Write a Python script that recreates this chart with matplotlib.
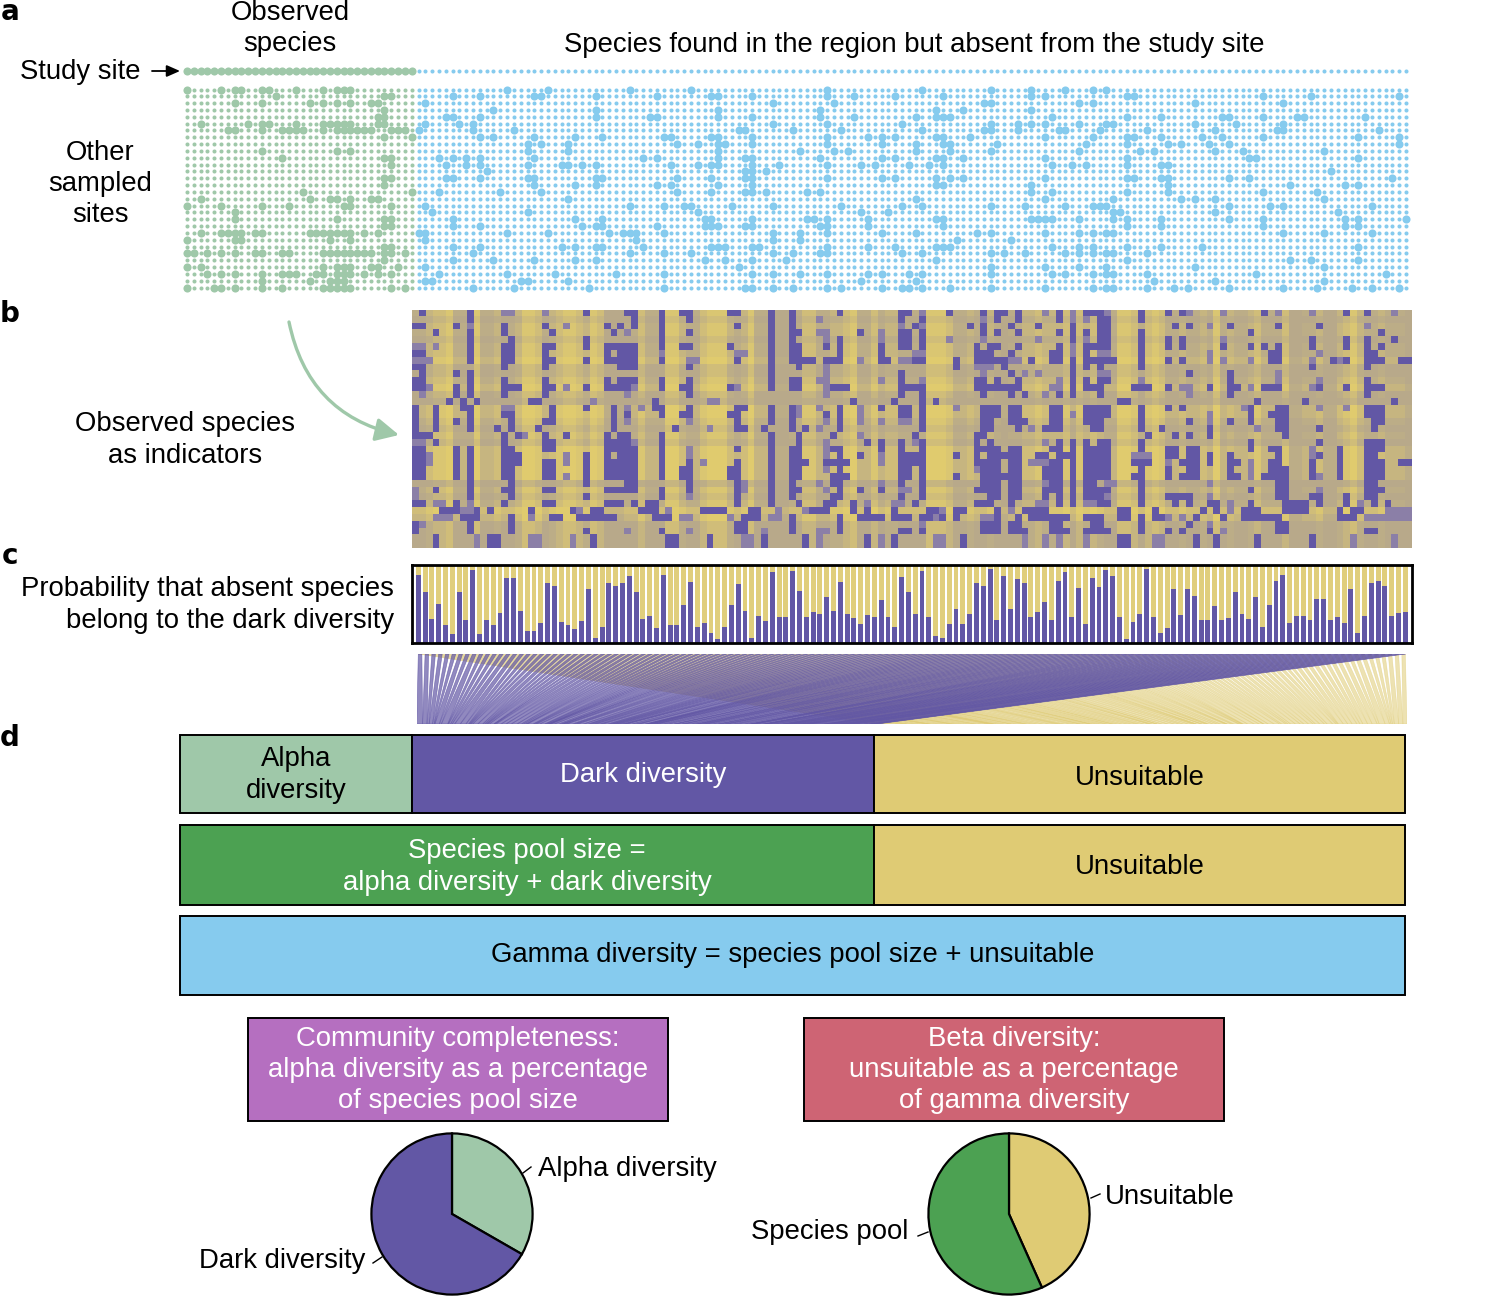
import numpy as np
import matplotlib
matplotlib.use('Agg')
import matplotlib.pyplot as plt
from matplotlib.colors import LinearSegmentedColormap
from matplotlib.collections import PolyCollection
from matplotlib.patches import FancyArrowPatch, Rectangle

plt.rcParams['font.family'] = ['Liberation Sans', 'DejaVu Sans']

W, H = 1500, 1296
GREEN_LIGHT = '#9fc8a9'
GREEN = '#4ca152'
BLUE = '#86cbee'
PURPLE = '#6257a5'
YELLOW = '#dfcb74'
PINK = '#b56fc0'
RED = '#ce6474'

# panel a: 34 observed species, 146 absent ones, 30 other sites
n_observed = 34
n_absent = 146
n_sites = 30

# column numbers of the large dots, one list per site
green_big = [
    [0, 5, 7, 8, 11, 12, 16, 20, 22, 23, 24],
    [13, 29, 30],
    [7, 11, 18, 20, 22, 24, 27, 28],
    [29],
    [28, 29],
    [2, 9, 11, 12, 16, 20, 21, 22, 23, 24, 28, 29],
    [6, 7, 11, 14, 15, 16, 17, 20, 22, 23, 24, 25, 26, 27, 30, 31, 32],
    [29, 33],
    [],
    [11, 22, 24],
    [14, 29, 30],
    [30],
    [],
    [29, 30],
    [29],
    [17, 33],
    [2, 18, 21, 22, 24, 27, 28],
    [0, 5, 11, 15, 23, 24, 30],
    [7],
    [7, 22, 29, 30],
    [29, 30],
    [2, 5, 6, 7, 8, 10, 11, 18, 19, 20, 21, 22, 23, 24, 26, 28],
    [0, 7, 8, 21, 24],
    [29, 30],
    [0, 1, 3, 5, 7, 10, 11, 14, 15, 20, 21, 22, 23, 24, 25, 26, 27, 29, 30, 32],
    [29],
    [0, 2, 20, 22, 23, 24, 27, 28, 31],
    [3, 5, 7, 11, 14, 15, 16, 19, 20, 22, 23, 24, 26, 28, 30],
    [11, 18, 21, 22, 23],
    [0, 4, 5, 7, 11, 14, 20, 21, 22, 23, 24, 30, 32],
]

# blue, counted from the first absent species (column 33 is the last green one)
blue_big_left = [
    [14, 20, 32, 41, 61],
    [6, 10, 18, 19, 27, 36, 44, 45, 50, 61, 65, 71],
    [2, 53, 62],
    [12, 27, 45, 60],
    [5, 6, 10, 27, 35, 36, 45, 50, 60, 65],
    [2, 7, 9, 53, 61, 72],
    [1, 9, 15, 48, 49, 56, 63],
    [10, 12, 18, 24, 28, 37, 38, 44, 45, 50, 61, 67, 69, 71],
    [17, 19, 23, 39, 42, 45, 46, 50, 61, 69],
    [17, 23, 45, 57, 62, 64],
    [4, 6, 8, 10, 18, 34, 36, 45, 49, 50, 60, 69, 71],
    [5, 8, 10, 17, 22, 23, 25, 27, 38, 42, 44, 45, 50, 54, 61, 66, 68, 73],
    [11, 49, 50, 52],
    [5, 6, 10, 17, 18, 27, 28, 39, 44, 49, 50, 61, 69, 71],
    [18, 24, 27, 36, 38, 45, 50],
    [4, 13, 19, 39, 44, 49, 50, 52, 58, 60],
    [23],
    [2, 32, 37, 40, 41, 47, 53, 63, 72],
    [3, 17, 42, 66, 70],
    [6, 24, 28, 43, 44, 50, 58, 59, 61, 67],
    [6, 10, 25, 27, 28, 36, 43, 44, 45, 49, 50, 60, 61, 67],
    [1, 2, 14, 20, 29, 31, 32, 33, 37, 53, 57, 61, 69],
    [2, 33, 53, 57],
    [6, 10, 22, 24, 27, 28, 34, 44, 45, 46, 50, 51, 61, 67, 71],
    [9, 32, 37, 41, 53, 56, 60, 61, 72],
    [6, 12, 18, 24, 27, 43, 46, 50, 55],
    [2, 48],
    [4, 14, 21, 30, 37, 50, 53, 57, 61, 67, 69, 73],
    [2, 3, 16, 17, 23, 66],
    [9, 15, 26, 37, 49, 50, 53, 56, 61, 63, 69, 72, 73],
]

# blue, counted from column 107
blue_big_right = [
    [1, 11, 17, 22, 26, 28],
    [4, 17, 19, 31, 32, 51, 58, 71],
    [10, 11, 24, 26, 41, 54],
    [3, 7, 17],
    [0, 3, 4, 5, 20, 31, 36, 45, 46, 51, 56, 57, 66],
    [11, 15, 17, 19, 24, 28, 29, 41, 47, 54],
    [1, 10, 11, 15, 21, 22, 27, 34, 44, 53, 54, 68],
    [3, 4, 8, 19, 26, 31, 32, 36, 42, 45, 51, 65, 71],
    [0, 4, 5, 12, 25, 31, 37, 39, 43, 46, 71],
    [0, 5, 11, 24, 33, 35, 44, 48, 60],
    [3, 4, 7, 19, 31, 49, 50, 65],
    [2, 4, 20, 23, 25, 31, 36, 37],
    [61],
    [3, 5, 7, 19, 31, 32, 36, 37, 46, 49, 70],
    [3, 4, 17, 37, 55, 63, 65],
    [17, 20, 31, 37, 51, 59],
    [0, 19, 29, 39, 41, 44, 60],
    [1, 11, 16, 22, 26, 27, 28, 46, 52, 54, 67],
    [29, 30, 44, 62],
    [3, 4, 17, 18, 19, 20, 24, 29, 31, 36, 46, 51, 63, 65, 72],
    [4, 31, 36, 51, 63, 65],
    [0, 9, 11, 19, 24, 26, 28, 29, 54, 60, 67],
    [6, 14],
    [3, 4, 5, 20, 24, 26, 31, 36, 42, 65],
    [1, 11, 13, 16, 22, 24, 26, 28, 29, 34],
    [3, 31, 55, 58, 65],
    [11, 19, 24, 28, 41, 60],
    [1, 11, 20, 22, 26, 28, 29, 34, 50, 69],
    [0, 35, 44, 60],
    [1, 5, 11, 19, 26, 28, 29, 34, 38, 40, 46, 54, 59, 64, 67, 71],
]

# panel b: 35 indicator rows, 146 columns. plain number = dark cell, ~ = half dark
heat_rows = [
    "1 8 ~13-14 ~19 25 31-32 36 39-40 46-47 52 55 62 71-72 ~74 78 83 85-86 88 ~92 94 ~96 98-100 ~101 106 110 112 ~113 ~118 124 ~126 ~131 136 139 ~143",
    "8 32 36 40 52 55 ~59 71 74 ~83 85 88 94 ~96 ~98 100-101 106",
    "0-1 6 ~8 13 19 ~22 28 30 32 36 47 52 55 ~71 73 ~74 81 83 87 91 96 100-101 111 113 ~116 119 126 132 ~139",
    "3 8 13 20 29 ~31 36 40 52 55-56 ~59-60 65 ~68 71-72 74 83 85 88 94 96 98 100-101 106 122 141",
    "8 14 25 36 52 55 ~60 62 ~68 71-72 74 ~78 ~83 ~91 96 ~98 100-101 106 110 112 ~118 131 136 139 143",
    "~0-1 ~3 8 13-14 19-20 25 28-32 36 39-40 46 52 55-56 60 62 68 71-72 74 82 84 85 88 94 ~96 98-101 106 110 112 118 122 124 126 131 136 139 141",
    "0-1 8 13-14 19 28 30-32 ~36 ~47-48 52 55-56 62 68 ~73-74 82-84 87 93-94 ~96 98 ~100-101 106 ~116 125-126 ~132 139-140",
    "~0-2 8 13-14 19-20 25 28-32 36 ~40-41 47 52 55-58 60-62 ~65 68-69 ~71-72 73-74 79 82-84 85-86 ~87-88 90 93-94 96 98-102 106 110 112 ~116 ~118 ~122 125-126 ~131 134 ~135 136 139-141 144-145",
    "0-1 13 19 30-32 40 52 56 ~60 79 ~82-84 86 96 98 100 106 131 139",
    "1 6 8 52 ~60 71 ~83 87 ~89 ~91 96 ~100-101 113 119 ~126",
    "0-1 8 13 19 28 30-32 36 40 52 55-56 ~59-60 ~68 71 ~74 82-83 85 88 ~94 96 98 100-101 ~106 119 ~126 ~132 139",
    "0-1 ~2 6 8 13-15 19-20 ~22 25 28-31 ~32 36 39-40 46 ~47 52 55-56 ~60 61-63 71-72 73-74 82-84 85-86 87-88 ~93-94 96 98-100 105-107 110 ~112-113 116 119-120 ~122 124-126 ~131 132 136 139-141",
    "~1 6 8 13 19 ~31 40 ~60 71 74 83 87 89 ~92 94 96 100 ~113 119 139",
    "5 7 9 17-18 ~26 35 ~43-44 64 70 74 76 103-104 123 130 143",
    "0 3 7-8 ~13-14 20 25 29 ~31 ~33 35-36 40 47-48 52 55 ~56 ~59 62 ~65 68 71-72 74 ~79 83-84 85 87-88 93-94 98-101 106 110 112 ~121 122 126-127 ~132 ~136 139-141",
    "0 3 8 13-14 20 29 31 36 39-40 46-47 52 55 ~56 60 62 ~65 71-72 74 83-84 85 87-88 93-94 ~96 98-101 106 ~116 122 125-127 139-141",
    "0 3 6 8 14 19-20 29 ~31 ~40 47 52 55 ~60 62 ~65 ~68 ~71-72 74 83-84 87-89 93-94 98-100 106 113 ~116 119 122 126-127 140-141",
    "0 3 8 12 14 18 29 38 ~43 47-48 51 55 57 ~59 62 74 83-84 88 ~90 92-94 99-100 106 109 116 ~123 126-127 132 140",
    "0-2 13 15 ~16 19 22 28 30-31 36 52 56 61 ~65 73 82-83 107 111 113 116 127",
    "~0-1 3 13 19-20 28-31 ~32 36 52 56 ~60 66 68 71 ~73 74 82 84 ~92 94 96 98 100-101 106 122 132 139-141",
    "0-1 6 8 13-14 19-20 28-32 36 ~40 47 52 55-56 ~60 61-62 68 71 74 82-84 85 87-88 93-94 96 98-101 106 110-111 113-114 122 125-126 ~131 135 139-141",
    "0-1 ~2 6 8 13-14 15 ~22 25 28 30-32 36 ~40 52 55-56 ~60 62 65 ~68 71-72 73-74 79 82 84 85-88 91-92 94-96 98-101 ~105-107 110-111 113-114 116 119 126 ~131 132 135 139-140",
    "0-1 ~2 6 8 13-15 19-20 ~22 25 28-32 36 40 ~42 47 52 55-57 60-63 ~68 71-72 73-74 82-84 85 87-88 ~90-92 93-94 96 98-101 105-107 ~110 112-114 116 119-120 ~122 125-126 131 135 139-141 144-145",
    "0-1 6 8 13-14 19-20 25 28-32 36 39-40 46-47 52 55-56 ~60 62 71-72 74 ~82 83-84 85 87-88 92-94 96 98-101 106 110 113-114 119 ~122 125-127 131 135 139-141",
    "0-1 6 8 13-14 19-20 ~22 25 28-32 36 39-40 46-47 52 55-56 61-63 71-72 74 79 83-84 85-88 92-94 96 98-101 105-106 110 112-114 119-120 ~122 124-127 131 ~132 135 139-141",
    "8 14 25 31-32 40 47 ~48 52 55 ~59 61-62 ~68 71 74 83-84 85 87-88 ~92 93-94 96 98-99 ~101-102 106 ~116 126-127 139-140",
    "~0 3 8 13-14 19-20 28-32 36 40 47 ~48 52 55-56 ~60 62 65 68 ~71-72 74 82-84 85 87-88 92-94 96 98-101 106 122 126-127 ~132 139-141",
    "~0 8 14 25 36 ~40 47 52 55 61-62 71 74 84 85 87-88 92 94 96 98-100 ~101 106 110-113 ~116 126-127 131-132 136 139-140",
    "0-1 ~3-4 6 ~8 13 19-20 28-30 32 34-35 47 52 56 60-61 64 ~66 ~70-71 73 82-84 87 ~91-92 94 96 ~98-99 100-101 106 111 113 116-117 ~119 122 127-130 132 136 ~138 140 142",
    "4-6 ~7-8 9 11 17 23 ~24 26-27 33-35 ~37 42-45 49-50 ~53 ~57 58-60 64 66 70 75-76 ~77 79-80 85 ~87 89-92 103-104 108 115 117 ~119 121-123 127-130 135 137-138 ~142-145",
    "~3-5 7-9 14 ~17 20-21 24-29 35-37 ~39-40 ~46 48-50 ~52-53 55 62 65-68 70-72 74-75 ~76 77 79 ~83-84 85 88 90-95 98-100 103-104 106 108-109 ~110 ~112 114 118 121-123 124-126 135-137 ~139-145",
    "0 ~1 8 14 47-48 55 62 ~74 83-84 85 87-88 93-94 99-100 106 113 ~116 126-127",
    "0 8 14 25 ~31 36 ~40 47-48 ~51 55 ~59-60 62 71-72 74 83-84 85 87-89 93-95 98-101 106 110 112 116 ~118 126-127 139-140",
    "3 ~9 11-12 ~17-18 ~23 26 37-38 43 ~48-49 51 57 ~59 66 ~68 70 ~76-77 80 ~89 ~92 ~94 ~98 103-104 ~108-109 114 117 123 131 ~137 ~143",
    "3 ~9 11-12 ~17-18 ~23 26 37-38 43 ~48-49 51 57 ~59 66 ~68 70 ~76-77 80 ~89 ~92 ~94 ~98 103-104 ~108-109 114 117 123 131 ~137 ~143",
]

# how tan each column is, 0 bright yellow to 4 tan
col_tone = [3, 3, 2, 1, 1, 0, 3, 3, 3, 0, 3, 3, 2, 3, 3, 2, 0, 0, 1, 3, 2, 1, 0, 0, 1, 2, 0, 1, 4, 4,
            4, 3, 3, 1, 3, 3, 3, 0, 0, 2, 3, 3, 1, 0, 0, 0, 2, 3, 2, 0, 3, 3, 3, 4, 4, 3, 3, 1, 1, 3,
            3, 2, 2, 1, 0, 3, 3, 1, 3, 2, 2, 3, 3, 3, 3, 0, 0, 0, 1, 3, 3, 2, 3, 3, 2, 3, 4, 3, 3, 2,
            2, 1, 2, 2, 2, 1, 3, 1, 2, 1, 2, 3, 3, 0, 0, 1, 3, 1, 0, 1, 3, 3, 2, 3, 3, 2, 3, 0, 3, 2,
            3, 3, 2, 1, 3, 3, 3, 1, 4, 4, 3, 3, 2, 4, 4, 2, 1, 0, 2, 3, 3, 2, 3, 3, 3, 4]
row_tone = [0, 1, 0, 0, 1, 0, 0, -1, 1, 1, 0, -1, 1, 2, -1, -1, 0, 1, 0, 1, -1, -1, -1, -1, -1, 2, 0, 1, 0, -2, -1, 1, 1, 1, 1]

# panel c: probability of belonging to the dark diversity, per absent species
dark_prob = [.87, .65, .31, .50, .23, .12, .66, .30, .94, .11, .30, .23, .38, .83, .83, .41, .15, .16, .26, .77,
             .73, .27, .23, .18, .28, .70, .07, .20, .77, .73, .77, .86, .66, .31, .35, .19, .87, .23, .23, .49,
             .79, .20, .26, .13, .05, .21, .49, .76, .41, .06, .35, .28, .91, .33, .33, .93, .67, .34, .40, .37,
             .59, .41, .79, .37, .32, .25, .36, .33, .55, .33, .21, .85, .66,
             .37, .93, .33, .09, .07, .25, .44, .24, .37, .77, .73, .95, .30, .86, .44, .82, .77, .33, .40, .53,
             .30, .80, .91, .33, .71, .24, .83, .72, .94, .86, .33, .05, .27, .37, .95, .34, .13, .19, .70, .36,
             .70, .61, .29, .30, .47, .30, .32, .66, .37, .31, .59, .20, .49, .80, .87, .26, .35, .35, .30, .56,
             .56, .30, .33, .26, .70, .13, .35, .77, .80, .73, .35, .38, .40]

# panel d pies, share of the circle clockwise from 12 o'clock
completeness_shares = [33.3, 66.7]
beta_shares = [43.3, 56.7]


def axes_px(x0, y0, x1, y1):
    # axes placed by picture pixels, y counted from the top
    return fig.add_axes([x0 / W, 1 - y1 / H, (x1 - x0) / W, (y1 - y0) / H])


def parse_heat_row(text):
    dark = []
    half = []
    for tok in text.split():
        target = half if tok.startswith('~') else dark
        tok = tok.lstrip('~')
        if '-' in tok:
            a, b = tok.split('-')
            target.extend(range(int(a), int(b) + 1))
        else:
            target.append(int(tok))
    return dark, half


def draw_dots(ax):
    n_cols = n_observed + n_absent
    cols = np.arange(n_cols)
    small_s, big_s = 8.5, 34
    # study site row sits above the others
    ax.scatter(cols[:n_observed], np.full(n_observed, -2.64), s=big_s, color=GREEN_LIGHT, lw=0, clip_on=False)
    ax.scatter(cols[n_observed:], np.full(n_absent, -2.64), s=small_s, color=BLUE, lw=0, clip_on=False)
    for r in range(n_sites):
        big_g = green_big[r]
        big_b = [c + 33 for c in blue_big_left[r]] + [c + 107 for c in blue_big_right[r]]
        big = set(big_g) | set(big_b)
        small = [c for c in cols if c not in big]
        small_g = [c for c in small if c < n_observed]
        small_b = [c for c in small if c >= n_observed]
        ax.scatter(small_g, [r] * len(small_g), s=small_s, color=GREEN_LIGHT, lw=0, clip_on=False)
        ax.scatter(small_b, [r] * len(small_b), s=small_s, color=BLUE, lw=0, clip_on=False)
        ax.scatter(big_g, [r] * len(big_g), s=big_s, color=GREEN_LIGHT, lw=0, clip_on=False)
        ax.scatter(big_b, [r] * len(big_b), s=big_s, color=BLUE, lw=0, clip_on=False)
    ax.set_xlim(-0.5, n_cols - 0.5)
    ax.set_ylim(n_sites - 0.5, -3.5)
    ax.axis('off')


def draw_heat(ax):
    matrix = np.zeros((len(heat_rows), n_absent))
    for r, text in enumerate(heat_rows):
        matrix[r] = np.clip((np.array(col_tone) + row_tone[r] + 0.6) / 4 * 0.5, 0, 0.5)
        dark, half = parse_heat_row(text)
        matrix[r, half] = 0.78
        matrix[r, dark] = 1.0
    cmap = LinearSegmentedColormap.from_list('heat', [(0, '#e0cb6e'), (0.5, '#b9aa8a'), (0.78, '#8c80a8'), (1, PURPLE)])
    ax.imshow(matrix, cmap=cmap, vmin=0, vmax=1, aspect='auto', interpolation='nearest')
    ax.axis('off')


def draw_bars(ax):
    x = np.arange(n_absent)
    p = np.array(dark_prob)
    ax.bar(x, np.ones(n_absent), width=0.72, color='#e0ce7c', lw=0)
    ax.bar(x, p, width=0.72, color=PURPLE, lw=0)
    ax.set_xlim(-0.92, n_absent - 1 + 0.98)
    ax.set_ylim(0, 1.01)
    ax.set_xticks([])
    ax.set_yticks([])
    for s in ax.spines.values():
        s.set_linewidth(2)


def draw_flows(ax):
    # each species splits at the top; widths stack along the bottom
    p = np.array(dark_prob)
    x = np.arange(n_absent)
    half = 0.26
    purple_edges = np.concatenate([[0], np.cumsum(p)]) - 0.5
    yellow_edges = purple_edges[-1] + np.concatenate([[0], np.cumsum(1 - p)])
    yellow_polys = [[(x[i] - half, 1), (x[i] + half, 1), (yellow_edges[i + 1], 0), (yellow_edges[i], 0)] for i in x]
    purple_polys = [[(x[i] - half, 1), (x[i] + half, 1), (purple_edges[i + 1], 0), (purple_edges[i], 0)] for i in x]
    ax.add_collection(PolyCollection(yellow_polys, facecolors=YELLOW, edgecolors=YELLOW, linewidths=0.4, alpha=0.55))
    ax.add_collection(PolyCollection(purple_polys, facecolors=PURPLE, edgecolors=PURPLE, linewidths=0.5, alpha=0.7))
    ax.set_xlim(-0.5, n_absent - 0.5)
    ax.set_ylim(0, 1)
    ax.axis('off')


def draw_pie(ax, shares, colors):
    ax.pie(shares, colors=colors, startangle=90, counterclock=False, radius=1,
           wedgeprops={'edgecolor': 'black', 'linewidth': 1.6})
    ax.set_xlim(-1.03, 1.03)
    ax.set_ylim(-1.03, 1.03)


fig = plt.figure(figsize=(W / 100, H / 100), dpi=100)
page = fig.add_axes([0, 0, 1, 1])
page.set_xlim(0, W)
page.set_ylim(H, 0)
page.axis('off')

draw_dots(axes_px(183.6, 65.6, 1409.4, 291))
draw_heat(axes_px(412, 310, 1412, 548))
draw_bars(axes_px(412, 564.5, 1412, 643))
draw_flows(axes_px(416.7, 654, 1407, 724))
draw_pie(axes_px(369, 1131, 535, 1297), completeness_shares, [GREEN_LIGHT, PURPLE])
draw_pie(axes_px(926, 1131, 1092, 1297), beta_shares, [YELLOW, GREEN])

# boxes of panel d
boxes = [
    (180, 735, 412, 813, GREEN_LIGHT),
    (412, 735, 874, 813, PURPLE),
    (874, 735, 1405, 813, YELLOW),
    (180, 825, 874, 905, GREEN),
    (874, 825, 1405, 905, YELLOW),
    (180, 916, 1405, 995, BLUE),
    (248, 1018, 668, 1121, PINK),
    (804, 1018, 1224, 1121, RED),
]
for x0, y0, x1, y1, col in boxes:
    page.add_patch(Rectangle((x0, y0), x1 - x0, y1 - y0, facecolor=col, edgecolor='black', lw=1.4))

FS = 19.85
LS = 1.26
for letter, y in [('a', 12), ('b', 314), ('c', 556), ('d', 738)]:
    page.text(10, y, letter, ha='center', va='center', fontsize=20, fontweight='bold', family=['DejaVu Sans'])

labels = [
    (290, 28.5, 'Observed\nspecies'),
    (80, 72, 'Study site'),
    (100, 184, 'Other\nsampled\nsites'),
    (914, 45, 'Species found in the region but absent from the study site'),
    (185, 440, 'Observed species\nas indicators'),
    (296, 775, 'Alpha\ndiversity'),
    (1140, 778, 'Unsuitable'),
    (1140, 867, 'Unsuitable'),
    (793, 955, 'Gamma diversity = species pool size + unsuitable'),
    (282, 1261, 'Dark diversity'),
    (830, 1232, 'Species pool'),
]
for x, y, s in labels:
    page.text(x, y, s, ha='center', va='center', multialignment='center', fontsize=FS, linespacing=LS)
white_labels = [
    (643, 775, 'Dark diversity'),
    (527, 867, 'Species pool size =\nalpha diversity + dark diversity'),
    (458, 1070, 'Community completeness:\nalpha diversity as a percentage\nof species pool size'),
    (1014, 1070, 'Beta diversity:\nunsuitable as a percentage\nof gamma diversity'),
]
for x, y, s in white_labels:
    page.text(x, y, s, ha='center', va='center', multialignment='center', fontsize=FS, color='white', linespacing=LS)
page.text(394, 605, 'Probability that absent species\nbelong to the dark diversity', ha='right', va='center',
          multialignment='right', fontsize=FS, linespacing=LS)
page.text(538, 1169, 'Alpha diversity', ha='left', va='center', fontsize=FS)
page.text(1105, 1197, 'Unsuitable', ha='left', va='center', fontsize=FS)

# small leader lines at the pies
for x0, y0, x1, y1 in [(523, 1173, 531, 1167), (373, 1263, 382, 1257), (1091, 1198, 1100, 1194), (918, 1236, 928, 1232)]:
    page.plot([x0, x1], [y0, y1], color='black', lw=1)

page.add_patch(FancyArrowPatch((152, 71), (180, 71), arrowstyle='-|>,head_length=5,head_width=2.2',
                               color='black', lw=1.3, mutation_scale=1.6, shrinkA=0, shrinkB=0))
page.add_patch(FancyArrowPatch((289, 322), (399, 435), connectionstyle='arc3,rad=0.32',
                               arrowstyle='-|>,head_length=7,head_width=3.5', color=GREEN_LIGHT, lw=2.4,
                               mutation_scale=2, shrinkA=0, shrinkB=0))

fig.savefig('out.png', dpi=100)
